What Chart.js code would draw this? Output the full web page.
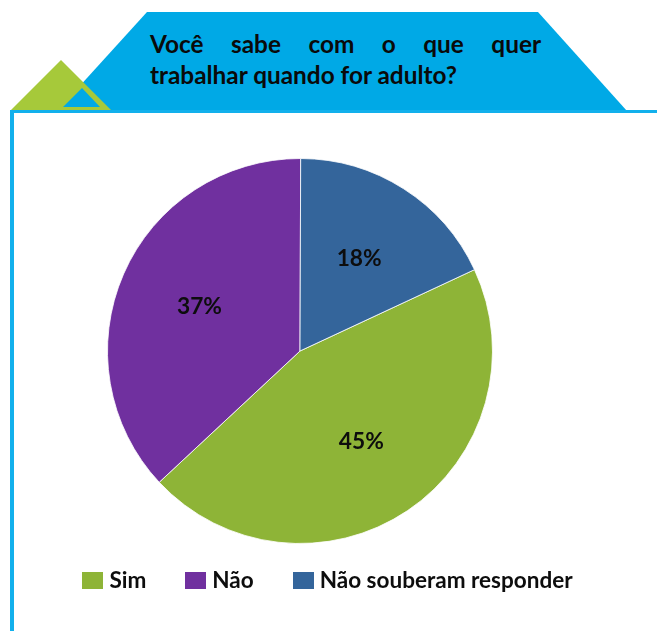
<!DOCTYPE html>
<html>
<head>
<meta charset="utf-8">
<script src="https://cdn.jsdelivr.net/npm/chart.js@4.4.1/dist/chart.umd.min.js"></script>
<style>
  html, body { margin: 0; padding: 0; background: #ffffff; }
  #wrap { position: relative; width: 657px; height: 631px; overflow: hidden; background: #ffffff; }
  #deco { position: absolute; left: 0; top: 0; }
  #c { position: absolute; left: 0; top: 0; }
  #legend { position: absolute; left: 0; top: 572px; width: 655px; height: 17px;
            display: flex; justify-content: center; align-items: center; }
  .item { display: flex; align-items: center; height: 17px; }
  .box { width: 21px; height: 17px; margin-right: 6px; }
  .lbl { font-family: 'Lato', sans-serif; font-weight: 700; color: #0d0d0d; line-height: 1; white-space: nowrap; }
</style>
</head>
<body>
<div id="wrap">
  <svg id="deco" width="657" height="631" xmlns="http://www.w3.org/2000/svg">
    <polygon points="147,12 538,12 627,111 57,111" fill="#00A9E6"/>
    <polygon points="61,60 112,111 10,111" fill="#A6C93A"/>
    <polygon points="82,88 100,107 63,107" fill="#00A9E6"/>
    <rect x="10" y="110" width="647" height="3" fill="#12B0EC"/>
    <rect x="10" y="110" width="4" height="521" fill="#12B0EC"/>
    <text id="t1" y="53" font-family="Lato" font-weight="700" fill="#0a0a0a"></text>
    <text id="t2" x="150" y="84" font-family="Lato" font-weight="700" fill="#0a0a0a"></text>
  </svg>
  <canvas id="c" width="657" height="631"></canvas>
  <div id="legend"></div>
</div>
<script>
// ---- data ----
const titleLine1 = "Você sabe com o que quer";
const titleLine2 = "trabalhar quando for adulto?";
const categories = ["Sim", "Não", "Não souberam responder"];
const values = [45, 37, 18];
const colors = ["#8EB437", "#70309F", "#34659B"];
const firstSliceAngle = 65;

// ---- font fitting helper ----
const mctx = document.createElement('canvas').getContext('2d');
function fitSize(text, target) {
  mctx.font = "700 100px Lato";
  return 100 * target / mctx.measureText(text).width;
}
function textW(text, size) {
  mctx.font = "700 " + size + "px Lato";
  return mctx.measureText(text).width;
}

// ---- title ----
const titleSize = fitSize(titleLine2, 308);
const t1 = document.getElementById('t1');
const t2 = document.getElementById('t2');
t1.setAttribute('font-size', titleSize);
t2.setAttribute('font-size', titleSize);
t2.textContent = titleLine2;
(function () {
  const words = titleLine1.split(' ');
  const left = 150, right = 541;
  const widths = words.map(w => textW(w, titleSize));
  const total = widths.reduce((a, b) => a + b, 0);
  const gap = (right - left - total) / (words.length - 1);
  let x = left;
  words.forEach((w, i) => {
    const ts = document.createElementNS('http://www.w3.org/2000/svg', 'tspan');
    ts.setAttribute('x', x);
    ts.textContent = (i < words.length - 1) ? w + ' ' : w;
    t1.appendChild(ts);
    x += widths[i] + gap;
  });
})();

// ---- legend ----
const legendSize = fitSize(categories[2], 253);
const legend = document.getElementById('legend');
categories.forEach((cat, i) => {
  const it = document.createElement('div');
  it.className = 'item';
  if (i < categories.length - 1) it.style.marginRight = '39px';
  const b = document.createElement('div');
  b.className = 'box';
  b.style.background = colors[i];
  const l = document.createElement('span');
  l.className = 'lbl';
  l.style.fontSize = legendSize + 'px';
  l.textContent = cat;
  it.appendChild(b); it.appendChild(l);
  legend.appendChild(it);
});

// ---- percent labels plugin ----
const labelSize = fitSize("37%", 45);
const pctLabels = {
  id: 'pctLabels',
  afterDatasetsDraw(chart) {
    const ctx = chart.ctx;
    const meta = chart.getDatasetMeta(0);
    ctx.save();
    ctx.font = "700 " + labelSize + "px Lato";
    ctx.fillStyle = '#0d0d0d';
    ctx.textAlign = 'center';
    ctx.textBaseline = 'middle';
    meta.data.forEach((arc, i) => {
      const p = arc.getProps(['x', 'y', 'startAngle', 'endAngle', 'outerRadius'], true);
      const a = (p.startAngle + p.endAngle) / 2;
      const r = p.outerRadius * 0.57;
      ctx.fillText(values[i] + '%', p.x + Math.cos(a) * r, p.y + Math.sin(a) * r);
    });
    ctx.restore();
  }
};

new Chart(document.getElementById('c'), {
  type: 'pie',
  data: {
    labels: categories,
    datasets: [{
      data: values,
      backgroundColor: colors,
      borderColor: 'rgba(255,255,255,0.8)',
      borderWidth: 1
    }]
  },
  options: {
    responsive: false,
    animation: false,
    rotation: firstSliceAngle,
    layout: { padding: { top: 158, bottom: 87, left: 0, right: 57 } },
    plugins: {
      legend: { display: false },
      tooltip: { enabled: false },
      title: { display: false }
    }
  },
  plugins: [pctLabels]
});
</script>
</body>
</html>
